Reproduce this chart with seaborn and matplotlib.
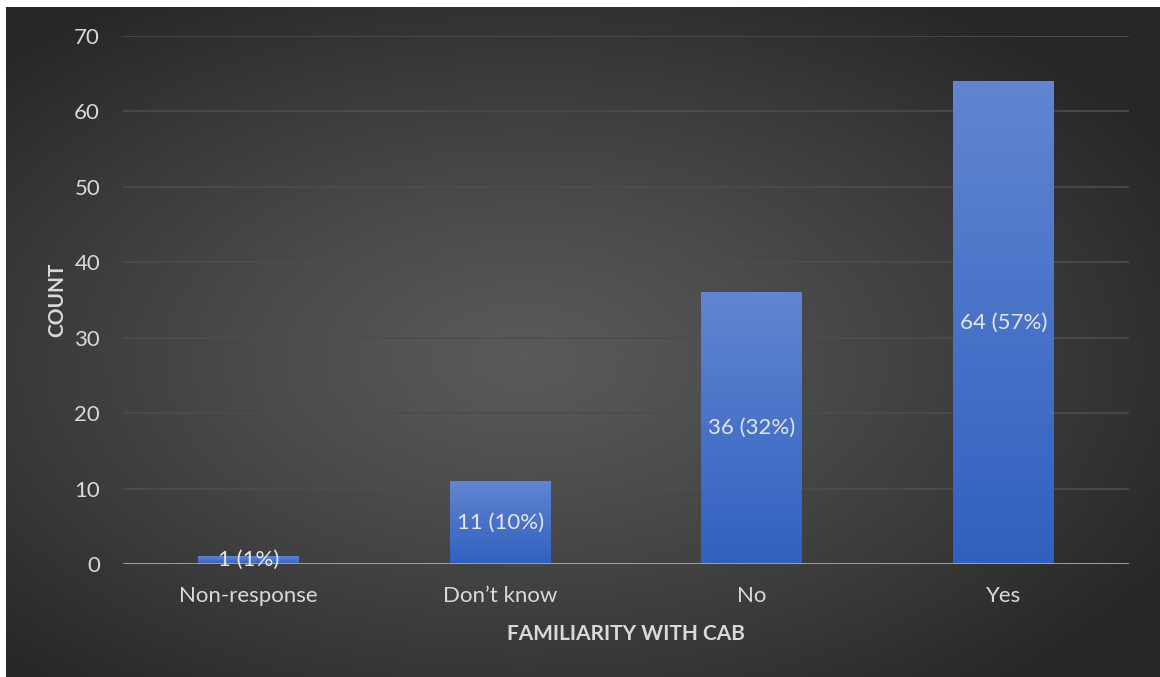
import numpy as np
import pandas as pd
import matplotlib
matplotlib.use("Agg")
import matplotlib.pyplot as plt
import seaborn as sns

categories = ["Non-response", "Don\u2019t know", "No", "Yes"]
counts = [1, 11, 36, 64]
percents = [1, 10, 32, 57]

sns.set_theme(style="dark")
plt.rcParams["font.family"] = ["Lato", "DejaVu Sans"]

W, H = 1160, 677
fig = plt.figure(figsize=(W / 100, H / 100), dpi=100)
fig.patch.set_facecolor("white")

# dark radial gradient panel behind the chart
bg = fig.add_axes([6 / W, 0, 1 - 6 / W, 1 - 7 / H])
gx, gy = np.meshgrid(np.linspace(-1, 1, 400), np.linspace(-1, 1, 240))
r = np.sqrt((gx + 0.1) ** 2 + (gy - 0.05) ** 2)
r = np.clip(r / 1.3, 0, 1)
shade = 0.35 - 0.2 * r ** 1.2
bg.imshow(np.dstack([shade] * 3), aspect="auto", extent=[0, 1, 0, 1])
bg.set_axis_off()

ax = fig.add_axes([123 / W, 1 - 564 / H, (1129 - 123) / W, (564 - 36) / H])
ax.set_facecolor("none")

df = pd.DataFrame({"category": categories, "count": counts})
sns.barplot(data=df, x="category", y="count", ax=ax, width=0.4,
            color="#3d6cc8", saturation=1, zorder=3)

# vertical gradient fill for each bar
grad = np.linspace(0, 1, 100).reshape(-1, 1)
top = np.array([0.38, 0.52, 0.82])
bottom = np.array([0.19, 0.38, 0.75])
cols = bottom + (top - bottom) * grad
for p in ax.patches:
    x0, w, h = p.get_x(), p.get_width(), p.get_height()
    p.set_facecolor("none")
    p.set_edgecolor("none")
    ax.imshow(cols[:, None, :].repeat(2, axis=1), aspect="auto",
              extent=[x0, x0 + w, 0, h], origin="lower", zorder=3)
ax.set_xlim(-0.5, len(categories) - 0.5)
ax.set_ylim(0, 70)
ax.set_yticks(range(0, 71, 10))

for i, (c, pc) in enumerate(zip(counts, percents)):
    ax.text(i, c / 2, f"{c} ({pc}%)", ha="center", va="center",
            color="#e6e6e6", fontsize=16, zorder=5)

ax.grid(axis="y", color="#4d4d4d", linewidth=1.2, zorder=0)
ax.grid(axis="x", visible=False)
ax.axhline(0, color="#a6a6a6", linewidth=2, zorder=4)
for s in ax.spines.values():
    s.set_visible(False)

ax.tick_params(axis="both", colors="#d9d9d9", labelsize=16, length=0)
ax.tick_params(axis="y", pad=16.5)
ax.tick_params(axis="x", pad=16)

ax.set_xlabel("FAMILIARITY WITH CAB", color="#d9d9d9", fontsize=15,
              fontweight="bold", labelpad=13)
ax.set_ylabel("COUNT", color="#d9d9d9", fontsize=15, fontweight="bold",
              labelpad=5)

fig.savefig("out.png", dpi=100)
